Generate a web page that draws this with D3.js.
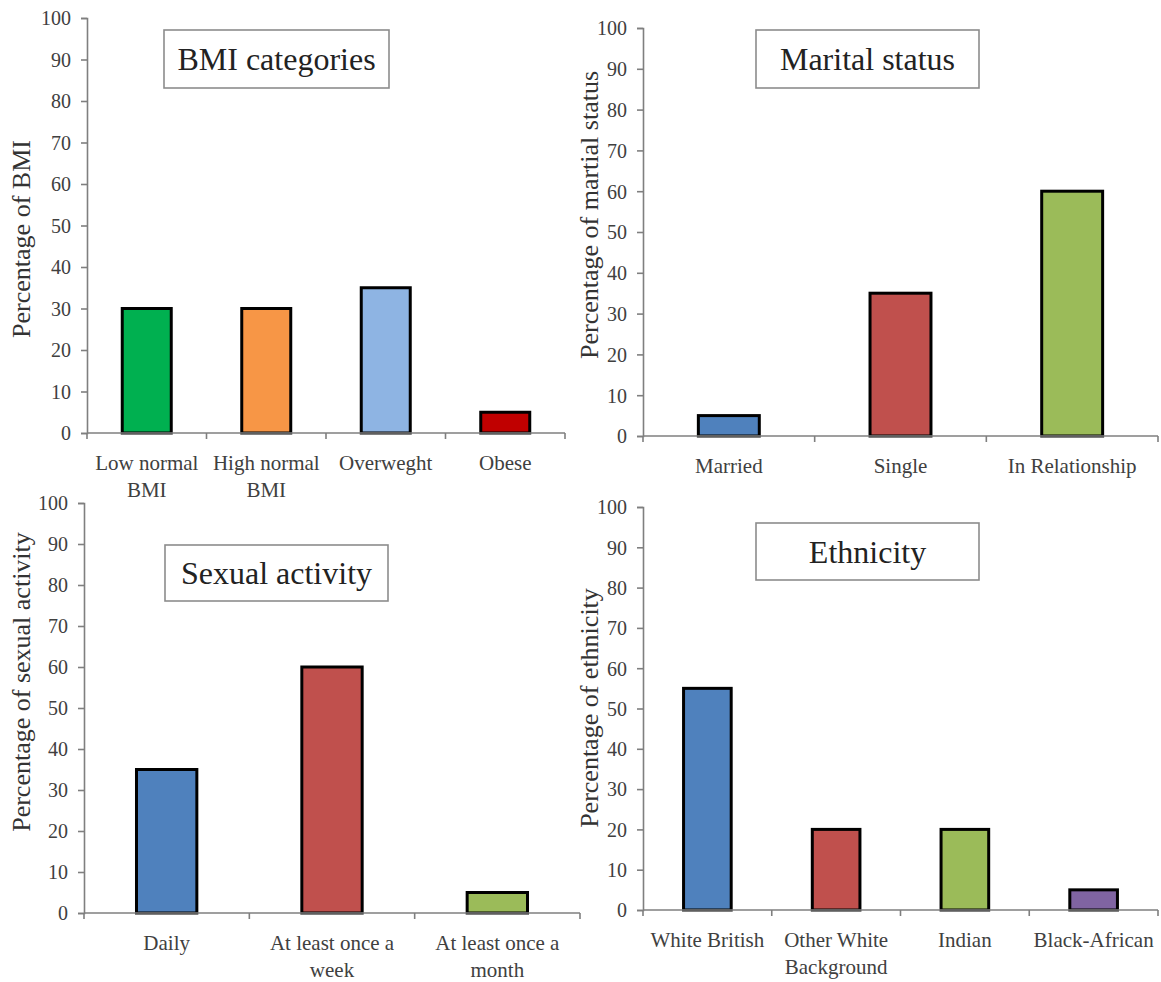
<!DOCTYPE html>
<html><head><meta charset="utf-8">
<script src="https://cdn.jsdelivr.net/npm/d3@7"></script>
<style>body{margin:0;background:#fff} svg{display:block}</style>
</head><body>
<svg id="c" width="1161" height="982"></svg>
<script>
// ---- data ----
const yTicks = [0, 10, 20, 30, 40, 50, 60, 70, 80, 90, 100];

const bmiTitle = "BMI categories";
const bmiYLabel = "Percentage of BMI";
const bmiCategories = ["Low normal BMI", "High normal BMI", "Overweght", "Obese"];
const bmiValues = [30, 30, 35, 5];
const bmiColors = ["#00B050", "#F79646", "#8EB4E3", "#C00000"];

const maritalTitle = "Marital status";
const maritalYLabel = "Percentage of martial status";
const maritalCategories = ["Married", "Single", "In Relationship"];
const maritalValues = [5, 35, 60];
const maritalColors = ["#4F81BD", "#C0504D", "#9BBB59"];

const sexualTitle = "Sexual activity";
const sexualYLabel = "Percentage of sexual activity";
const sexualCategories = ["Daily", "At least once a week", "At least once a month"];
const sexualValues = [35, 60, 5];
const sexualColors = ["#4F81BD", "#C0504D", "#9BBB59"];

const ethnicityTitle = "Ethnicity";
const ethnicityYLabel = "Percentage of ethnicity";
const ethnicityCategories = ["White British", "Other White Background", "Indian", "Black-African"];
const ethnicityValues = [55, 20, 20, 5];
const ethnicityColors = ["#4F81BD", "#C0504D", "#9BBB59", "#8064A2"];

// ---- layout ----
const panels = [
  {title: bmiTitle, ylabel: bmiYLabel, cats: bmiCategories, vals: bmiValues, cols: bmiColors,
   left: 87, right: 565, zero: 433, top: 18, barFrac: 0.41,
   box: [164, 30, 225, 58], ylx: 22, yly: 239},
  {title: maritalTitle, ylabel: maritalYLabel, cats: maritalCategories, vals: maritalValues, cols: maritalColors,
   left: 643, right: 1158, zero: 436, top: 28, barFrac: 0.355,
   box: [756, 30, 223, 58], ylx: 590, yly: 215},
  {title: sexualTitle, ylabel: sexualYLabel, cats: sexualCategories, vals: sexualValues, cols: sexualColors,
   left: 84, right: 580, zero: 913, top: 503, barFrac: 0.365,
   box: [165, 545, 223, 56], ylx: 22, yly: 682},
  {title: ethnicityTitle, ylabel: ethnicityYLabel, cats: ethnicityCategories, vals: ethnicityValues, cols: ethnicityColors,
   left: 643, right: 1158, zero: 910, top: 507, barFrac: 0.37,
   box: [756, 523, 223, 57], ylx: 590, yly: 708}
];

const FONT = "Liberation Serif";
const AXIS = "#7f7f7f";
const svg = d3.select("#c");

function wrap(textSel, width, lineH) {
  textSel.each(function() {
    const t = d3.select(this);
    const words = t.text().split(/\s+/);
    t.text(null);
    let line = [];
    let ts = t.append("tspan").attr("x", 0).attr("dy", 0);
    for (const w of words) {
      line.push(w);
      ts.text(line.join(" "));
      if (ts.node().getComputedTextLength() > width && line.length > 1) {
        line.pop();
        ts.text(line.join(" "));
        line = [w];
        ts = t.append("tspan").attr("x", 0).attr("dy", lineH).text(w);
      }
    }
  });
}

panels.forEach(p => {
  const g = svg.append("g");
  const x = d3.scaleBand().domain(p.cats).range([p.left, p.right]).paddingInner(0).paddingOuter(0);
  const y = d3.scaleLinear().domain([0, 100]).range([p.zero, p.top]);
  const bw = x.bandwidth() * p.barFrac;

  // y axis
  const ya = g.append("g").attr("transform", `translate(${p.left},0)`)
    .call(d3.axisLeft(y).tickValues(yTicks).tickSize(6).tickPadding(10).tickFormat(d3.format("d")));
  ya.attr("font-family", FONT);
  ya.select(".domain").attr("stroke", AXIS).attr("stroke-width", 1.6);
  ya.selectAll(".tick line").attr("stroke", AXIS).attr("stroke-width", 1.6);
  ya.selectAll(".tick text").attr("font-family", FONT).attr("font-size", 20)
    .attr("fill", "#404040").attr("dy", "0.34em");

  // bars
  g.selectAll("rect.bar").data(p.vals).join("rect").attr("class", "bar")
    .attr("x", (d, i) => x(p.cats[i]) + (x.bandwidth() - bw) / 2)
    .attr("y", d => y(d))
    .attr("width", bw)
    .attr("height", d => y(0) - y(d))
    .attr("fill", (d, i) => p.cols[i])
    .attr("stroke", "#000").attr("stroke-width", 3);

  // x axis
  const xa = g.append("g").attr("transform", `translate(0,${p.zero})`)
    .call(d3.axisBottom(x).tickSize(0).tickPadding(0));
  xa.attr("font-family", FONT);
  xa.select(".domain").remove();
  xa.selectAll(".tick text").attr("font-family", FONT).attr("font-size", 21).attr("fill", "#404040")
    .attr("y", 37).attr("dy", 0)
    .call(wrap, x.bandwidth() - 4, 27);
  xa.selectAll(".tick text tspan").attr("y", null);
  g.append("line").attr("x1", p.left).attr("x2", p.right).attr("y1", y(0)).attr("y2", y(0))
    .attr("stroke", AXIS).attr("stroke-width", 1.6);
  const bounds = p.cats.map(c => x(c)).concat([x.range()[1]]);
  g.selectAll("line.xt").data(bounds).join("line").attr("class", "xt")
    .attr("x1", d => d).attr("x2", d => d).attr("y1", y(0)).attr("y2", y(0) + 6)
    .attr("stroke", AXIS).attr("stroke-width", 1.6);

  // y label
  g.append("text").attr("font-family", FONT).attr("font-size", 26).attr("fill", "#333")
    .attr("text-anchor", "middle").attr("dy", "0.3em")
    .attr("transform", `translate(${p.ylx},${p.yly}) rotate(-90)`)
    .text(p.ylabel);

  // title box
  const [bx, by, bwid, bh] = p.box;
  g.append("rect").attr("x", bx).attr("y", by).attr("width", bwid).attr("height", bh)
    .attr("fill", "#fff").attr("stroke", "#8c8c8c").attr("stroke-width", 1.6);
  g.append("text").attr("font-family", FONT).attr("font-size", 32).attr("fill", "#222")
    .attr("text-anchor", "middle")
    .attr("x", bx + bwid / 2).attr("y", by + bh / 2 + 11)
    .text(p.title);
});
</script>
</body></html>
